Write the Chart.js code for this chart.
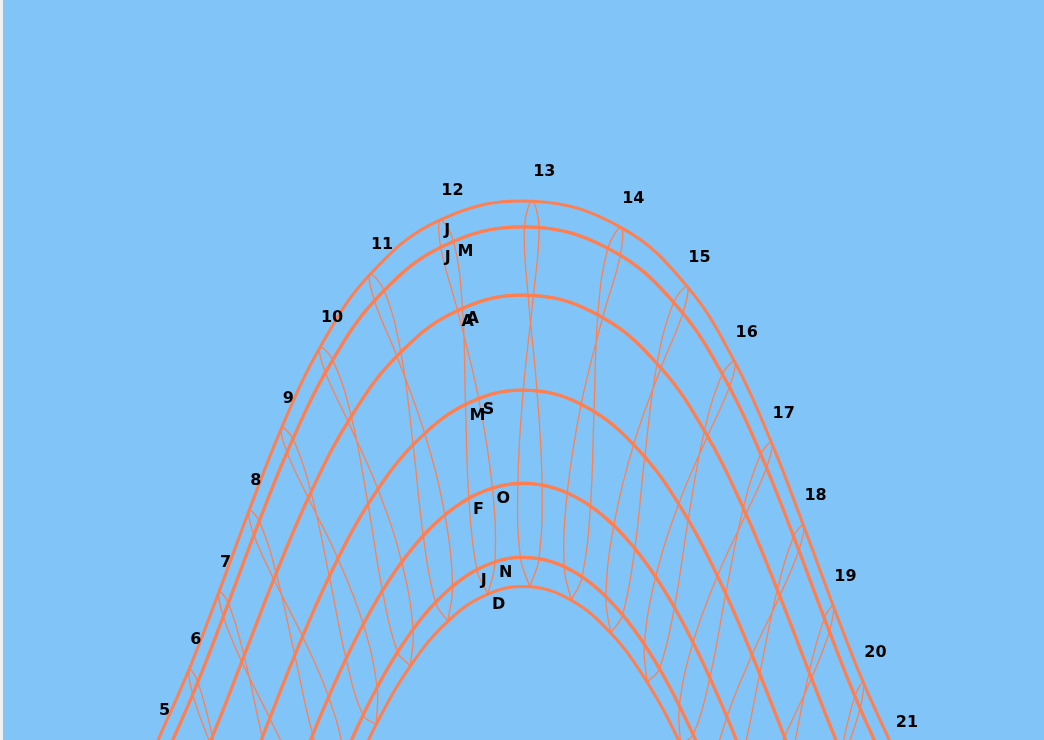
<!DOCTYPE html>
<html>
<head>
<meta charset="utf-8">
<title>Sun path</title>
<script src="https://cdn.jsdelivr.net/npm/chart.js@4.4.1/dist/chart.umd.min.js"></script>
<style>
  html, body { margin: 0; padding: 0; background: #f0f0f0; }
  #wrap { position: absolute; left: 3px; top: 0; width: 1041px; height: 740px; }
  canvas { display: block; background: #80c4f8; }
</style>
</head>
<body>
<div id="wrap"><canvas id="sun" width="1041" height="740"></canvas></div>
<script>
// Clock hours shown as analemmas
const hours = [5, 6, 7, 8, 9, 10, 11, 12, 13, 14, 15, 16, 17, 18, 19, 20, 21];
// Month initials, January to December
const monthLetters = ['J', 'F', 'M', 'A', 'M', 'J', 'J', 'A', 'S', 'O', 'N', 'D'];

// Sun azimuth (deg) and altitude (deg) on the 21st of each month, one value per clock hour
const janAz  = [80.72, 92.24, 102.91, 113.48, 124.51, 136.46, 149.58, 163.87, 178.93, 194.06, 208.49, 221.78, 233.88, 245.01, 255.62, 266.24, 277.58];
const janAlt = [-35.29, -25.27, -15.32, -5.77, 3.01, 10.66, 16.71, 20.69, 22.19, 21.05, 17.40, 11.61, 4.16, -4.49, -13.95, -23.86, -33.90];
const febAz  = [72.96, 84.98, 96.12, 107.12, 118.64, 131.24, 145.35, 161.11, 178.05, 195.12, 211.21, 225.71, 238.62, 250.34, 261.40, 272.45, 284.19];
const febAlt = [-29.10, -19.24, -9.20, 0.64, 9.89, 18.13, 24.82, 29.36, 31.18, 30.03, 26.06, 19.81, 11.87, 2.80, -6.94, -16.96, -26.90];
const marAz  = [66.48, 78.42, 89.66, 100.91, 112.85, 126.25, 141.83, 159.95, 179.93, 199.93, 218.06, 233.65, 247.06, 259.02, 270.26, 281.51, 293.44];
const marAlt = [-19.26, -9.69, 0.30, 10.30, 19.91, 28.65, 35.88, 40.79, 42.55, 40.81, 35.93, 28.70, 19.97, 10.36, 0.37, -9.62, -19.20];
const aprAz  = [60.97, 72.42, 83.38, 94.49, 106.51, 120.45, 137.58, 158.89, 183.42, 207.36, 227.50, 243.62, 256.92, 268.60, 279.60, 290.64, 302.32];
const aprAlt = [-8.81, 0.42, 10.24, 20.28, 30.15, 39.36, 47.18, 52.50, 54.06, 51.37, 45.24, 36.95, 27.49, 17.53, 7.52, -2.18, -11.17];
const mayAz  = [56.46, 67.40, 77.93, 88.62, 100.25, 114.03, 131.81, 155.82, 185.37, 213.47, 235.07, 251.18, 264.03, 275.22, 285.78, 296.40, 307.59];
const mayAlt = [-1.81, 7.06, 16.65, 26.62, 36.63, 46.23, 54.68, 60.65, 62.32, 58.94, 51.89, 42.92, 33.11, 23.07, 13.20, 3.83, -4.70];
const junAz  = [53.63, 64.39, 74.72, 85.12, 96.36, 109.61, 126.91, 151.23, 182.99, 213.79, 236.63, 253.00, 265.77, 276.79, 287.13, 297.50, 308.39];
const junAlt = [0.01, 8.62, 18.04, 27.92, 37.97, 47.74, 56.62, 63.26, 65.53, 62.32, 55.14, 46.02, 36.16, 26.12, 16.30, 7.00, -1.43];
const julAz  = [54.56, 65.62, 76.18, 86.79, 98.21, 111.52, 128.48, 151.36, 180.30, 209.17, 231.92, 248.78, 262.04, 273.42, 284.03, 294.60, 305.67];
const julAlt = [-3.19, 5.52, 15.01, 24.94, 34.98, 44.68, 53.40, 59.91, 62.40, 59.81, 53.24, 44.50, 34.78, 24.74, 14.82, 5.34, -3.35];
const augAz  = [60.09, 71.60, 82.58, 93.65, 105.58, 119.34, 136.19, 157.19, 181.58, 205.71, 226.17, 242.55, 256.01, 267.78, 278.80, 289.81, 301.43];
const augAlt = [-9.45, -0.28, 9.51, 19.54, 29.44, 38.72, 46.68, 52.22, 54.09, 51.70, 45.78, 37.60, 28.21, 18.27, 8.24, -1.49, -10.54];
const sepAz  = [69.36, 81.08, 92.26, 103.60, 115.82, 129.66, 145.83, 164.49, 184.68, 204.38, 221.93, 236.95, 249.95, 261.68, 272.86, 284.20, 296.40];
const sepAlt = [-17.09, -7.38, 2.65, 12.59, 22.05, 30.50, 37.27, 41.51, 42.46, 39.93, 34.41, 26.77, 17.79, 8.05, -1.98, -11.91, -21.33];
const octAz  = [78.98, 90.45, 101.44, 112.62, 124.60, 137.89, 152.82, 169.26, 186.42, 203.15, 218.49, 232.17, 244.43, 255.76, 266.73, 278.02, 290.41];
const octAlt = [-24.35, -14.35, -4.36, 5.24, 14.06, 21.62, 27.35, 30.62, 30.99, 28.42, 23.26, 16.11, 7.56, -1.88, -11.81, -21.84, -31.58];
const novAz  = [85.72, 96.76, 107.32, 118.03, 129.39, 141.82, 155.45, 170.14, 185.33, 200.25, 214.23, 227.00, 238.66, 249.50, 260.04, 270.86, 282.78];
const novAlt = [-31.10, -21.06, -11.24, -1.97, 6.39, 13.43, 18.66, 21.64, 22.04, 19.81, 15.20, 8.66, 0.65, -8.39, -18.08, -28.09, -38.06];
const decAz  = [86.46, 97.41, 107.75, 118.14, 129.07, 140.91, 153.83, 167.73, 182.18, 196.53, 210.16, 222.75, 234.29, 245.02, 255.33, 265.77, 277.09];
const decAlt = [-35.56, -25.53, -15.72, -6.47, 1.90, 9.01, 14.43, 17.75, 18.63, 17.00, 13.01, 7.03, -0.50, -9.17, -18.62, -28.53, -38.57];

const azimuths  = [janAz, febAz, marAz, aprAz, mayAz, junAz, julAz, augAz, sepAz, octAz, novAz, decAz];
const altitudes = [janAlt, febAlt, marAlt, aprAlt, mayAlt, junAlt, julAlt, augAlt, sepAlt, octAlt, novAlt, decAlt];

const LINE = '#ff7f50';

// Day arcs: the sun's track across the sky for each month
const arcSets = azimuths.map((az, m) => ({
  label: 'day ' + m,
  data: az.map((a, i) => ({ x: a, y: altitudes[m][i] })),
  showLine: true,
  borderColor: LINE,
  borderWidth: 3,
  pointRadius: 0,
  tension: 0.4,
  fill: false
}));

// Analemmas: the same clock hour through the year, closed through December
const loopOrder = [11, 0, 1, 2, 3, 4, 5, 6, 7, 8, 9, 10, 11];
const loopSets = hours.map((h, i) => ({
  label: 'hour ' + h,
  data: loopOrder.map(m => ({ x: azimuths[m][i], y: altitudes[m][i] })),
  showLine: true,
  borderColor: LINE,
  borderWidth: 1.3,
  pointRadius: 0,
  tension: 0.4,
  fill: false
}));

// Hour numbers above the June point, month initials beside the 12 o'clock point
const labelPlugin = {
  id: 'sunLabels',
  afterDatasetsDraw(chart) {
    const ctx = chart.ctx;
    const xs = chart.scales.x, ys = chart.scales.y;
    ctx.save();
    ctx.font = 'bold 16px "DejaVu Sans", Verdana, sans-serif';
    ctx.fillStyle = '#000000';
    ctx.textAlign = 'left';
    ctx.textBaseline = 'alphabetic';
    hours.forEach((h, i) => {
      const px = xs.getPixelForValue(junAz[i]);
      const py = ys.getPixelForValue(junAlt[i]);
      ctx.fillText(String(h), px + 1, py - 25);
    });
    const noonIdx = hours.indexOf(12);
    monthLetters.forEach((letter, m) => {
      const px = xs.getPixelForValue(azimuths[m][noonIdx]);
      const py = ys.getPixelForValue(altitudes[m][noonIdx]);
      ctx.fillText(letter, px + 4, py + 15);
    });
    ctx.restore();
  }
};

new Chart(document.getElementById('sun'), {
  type: 'scatter',
  data: { datasets: loopSets.concat(arcSets) },
  options: {
    responsive: false,
    animation: false,
    layout: { padding: 0 },
    elements: { line: { capBezierPoints: false } },
    scales: {
      x: { type: 'linear', min: 0, max: 360, display: false },
      y: { type: 'linear', min: 0, max: 90, display: false }
    },
    plugins: {
      legend: { display: false },
      tooltip: { enabled: false }
    }
  },
  plugins: [labelPlugin]
});
</script>
</body>
</html>
